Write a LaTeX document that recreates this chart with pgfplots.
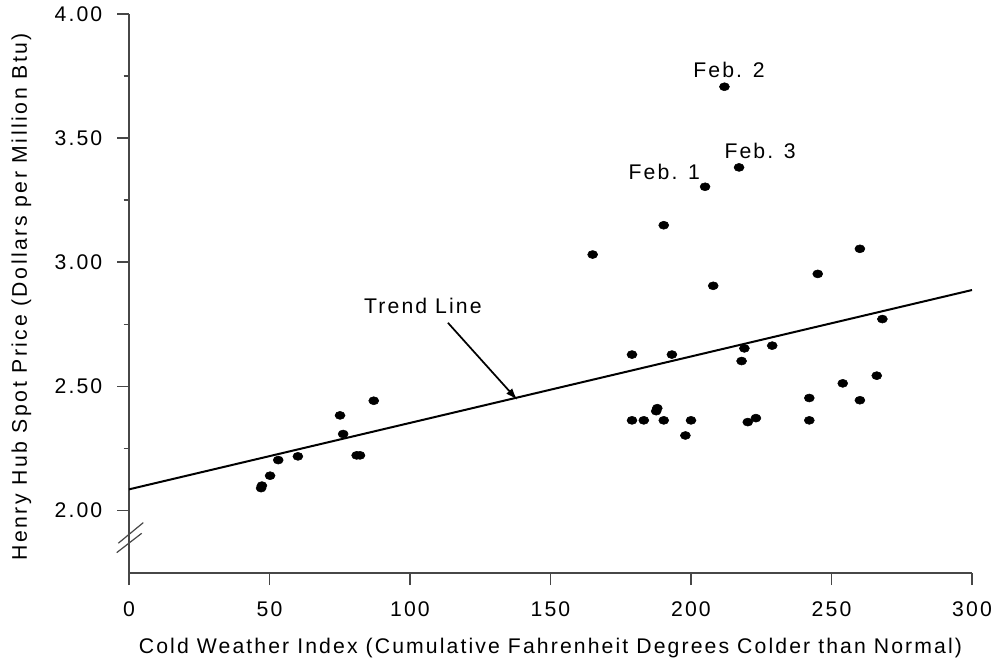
\documentclass[border=0pt]{standalone}
\usepackage{fontspec}
\setmainfont{Liberation Sans}[LetterSpace=10]
\usepackage{pgfplots}
\pgfplotsset{compat=1.18}
\usetikzlibrary{arrows.meta}
\newcommand{\lblfont}{\fontsize{15.9}{18}\selectfont}
\begin{document}
\begin{tikzpicture}[x=1pt,y=1pt]
\useasboundingbox (0,0) rectangle (748.5,496.5);
\begin{axis}[
  at={(96.75pt,66.75pt)}, anchor=south west,
  scale only axis, width=632.25pt, height=419.25pt,
  xmin=0, xmax=300, ymin=1.748, ymax=4,
  axis x line=bottom, axis y line=left,
  axis line style={-, line width=1.1pt, black!72},
  tick style={line width=1.1pt, black!72},
  tick align=outside,
  major tick length=9pt, minor tick length=4pt,
  xtick={0,50,100,150,200,250,300},
  ytick={2,2.5,3,3.5,4},
  minor ytick={2.25,2.75,3.25,3.75},
  /pgf/number format/assume math mode=true,
  ticklabel style={font=\lblfont},
  yticklabel style={xshift=-7.5pt, /pgf/number format/.cd, fixed, fixed zerofill, precision=2},
  xticklabel style={yshift=-9pt, /pgf/number format/.cd, fixed, precision=0},
  xlabel={Cold Weather Index (Cumulative Fahrenheit Degrees Colder than Normal)},
  ylabel={\addfontfeatures{LetterSpace=12}Henry Hub Spot Price (Dollars per Million Btu)},
  label style={font=\lblfont},
  xlabel style={at={(axis description cs:0.5,-0.1431)}, anchor=base},
  ylabel style={at={(axis description cs:-0.121,0.494)}, anchor=base, rotate=0},
  clip=false,
]
\addplot[only marks, mark=*, mark size=3pt, mark options={xscale=1.25, fill=black, draw=black}] coordinates {
(47.0,2.090) (47.3,2.100) (50.2,2.140) (53.1,2.203) (60.1,2.218)
(75.1,2.383) (76.2,2.308) (81.0,2.222) (82.2,2.222) (87.1,2.442)
(165.0,3.031) (179.0,2.628) (179.0,2.363) (183.2,2.363) (187.6,2.400)
(188.0,2.412) (190.3,2.363) (190.3,3.149) (193.2,2.628) (198.0,2.302)
(200.0,2.363) (205.0,3.304) (207.9,2.905) (211.9,3.707) (217.1,3.382)
(218.0,2.602) (219.0,2.653) (220.2,2.356) (223.1,2.372) (228.9,2.664)
(242.1,2.453) (242.1,2.363) (245.1,2.953) (254.0,2.512) (260.1,3.054)
(260.1,2.444) (266.1,2.543) (268.1,2.771)
};
\addplot[black, line width=1.5pt] coordinates {(0,2.085) (300,2.888)};
\node[font=\lblfont] at (axis cs:213.5,3.773) {Feb. 2};
\node[font=\lblfont] at (axis cs:224.6,3.447) {Feb. 3};
\node[font=\lblfont] at (axis cs:190.5,3.362) {Feb. 1};
\node[font=\lblfont] at (axis cs:104.6,2.824) {Trend Line};
\draw[line width=1.3pt, -{Latex[length=9pt,width=6pt]}] (axis cs:113.5,2.756) -- (axis cs:138.2,2.445);
\draw[line width=0.9pt, black!72] (axis cs:-3.8,1.868) -- (axis cs:5.09,1.951);
\draw[line width=0.9pt, black!72] (axis cs:-4.38,1.830) -- (axis cs:4.52,1.908);
\end{axis}
\end{tikzpicture}
\end{document}
